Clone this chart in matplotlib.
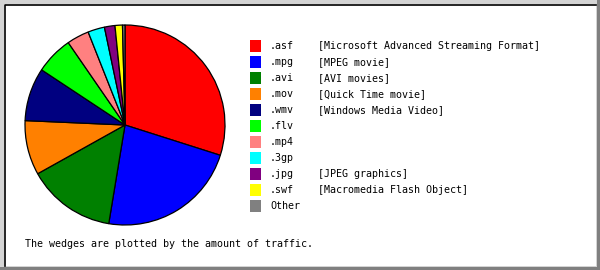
import matplotlib
matplotlib.use("Agg")
import matplotlib.pyplot as plt
from matplotlib.patches import Rectangle
from matplotlib.lines import Line2D

# DATA (share of traffic, %)
extensions = [".asf", ".mpg", ".avi", ".mov", ".wmv", ".flv", ".mp4", ".3gp", ".jpg", ".swf", "Other"]
descriptions = ["[Microsoft Advanced Streaming Format]", "[MPEG movie]", "[AVI movies]",
                "[Quick Time movie]", "[Windows Media Video]", "", "", "",
                "[JPEG graphics]", "[Macromedia Flash Object]", ""]
traffic = [29.9, 22.7, 14.3, 8.8, 8.6, 6.1, 3.6, 2.7, 1.7, 1.2, 0.4]
colors = ["#ff0000", "#0000ff", "#008000", "#ff8000", "#000080", "#00ff00",
          "#ff8080", "#00ffff", "#800080", "#ffff00", "#808080"]

W, H = 600, 270
FONT = "DejaVu Sans Mono"
FS = 7.2


def fx(x):
    return x / W


def fy(y):
    return 1 - y / H


fig = plt.figure(figsize=(W / 100, H / 100), dpi=100)
fig.patch.set_facecolor("white")

# bevelled frame (kept behind the pie axes)
fig.add_artist(Rectangle((0, 0), 1, 1, transform=fig.transFigure,
                         facecolor="#808080", edgecolor="none", zorder=-10))
fig.add_artist(Rectangle((0, fy(H - 3)), fx(W - 3), 1 - fy(H - 3), transform=fig.transFigure,
                         facecolor="#d4d4d4", edgecolor="none", zorder=-9))
fig.add_artist(Rectangle((fx(4), fy(H - 4)), fx(W - 8), fy(4) - fy(H - 4), transform=fig.transFigure,
                         facecolor="white", edgecolor="none", zorder=-8))
fig.add_artist(Line2D([fx(4.5), fx(4.5), fx(W - 4)], [fy(H - 4), fy(4.5), fy(4.5)],
                      transform=fig.transFigure, color="black", linewidth=1.2, zorder=-7))

# PIE
ax = fig.add_axes([fx(24), fy(226), fx(202), fy(24) - fy(226)])
ax.pie(traffic, colors=colors, startangle=90, counterclock=False,
       wedgeprops={"edgecolor": "black", "linewidth": 0.9})
ax.set_xlim(-1.01, 1.01)
ax.set_ylim(-1.01, 1.01)
ax.set_aspect("equal")
ax.axis("off")

# LEGEND
for i, (ext, desc, col) in enumerate(zip(extensions, descriptions, colors)):
    yc = 46 + 16 * i
    fig.add_artist(Rectangle((fx(250), fy(yc + 6)), fx(11), fy(yc - 6) - fy(yc + 6),
                             transform=fig.transFigure, facecolor=col, edgecolor="none"))
    fig.text(fx(270), fy(yc), ext, fontfamily=FONT, fontsize=FS, va="center", ha="left")
    if desc:
        fig.text(fx(318), fy(yc), desc, fontfamily=FONT, fontsize=FS, va="center", ha="left")

fig.text(fx(25), fy(244), "The wedges are plotted by the amount of traffic.",
         fontfamily=FONT, fontsize=FS, va="center", ha="left")

fig.savefig("out.png", dpi=100)
